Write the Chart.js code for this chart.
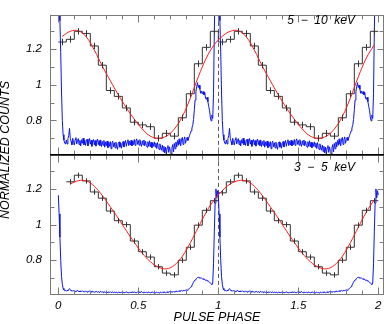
<!DOCTYPE html>
<html>
<head>
<meta charset="utf-8">
<script src="https://cdn.jsdelivr.net/npm/chart.js@4.4.1/dist/chart.umd.min.js"></script>
<style>
  html, body { margin: 0; padding: 0; background: #fff; }
  #wrap { width: 387px; height: 324px; }
</style>
</head>
<body>
<div id="wrap"><canvas id="chart" width="387" height="324"></canvas></div>
<script>
// pulse profiles, two cycles shown (phase 0..2)
const binWidth = 0.05;
const histTop = [1.240, 1.255, 1.300, 1.288, 1.218, 1.110, 0.968, 0.935, 0.870, 0.790,
                 0.775, 0.765, 0.700, 0.728, 0.712, 0.815, 0.950, 1.118, 1.210, 1.300];
const histBot = [1.178, 1.240, 1.277, 1.245, 1.183, 1.148, 1.076, 1.022, 1.000, 0.908,
                 0.848, 0.818, 0.764, 0.728, 0.718, 0.800, 0.873, 0.997, 1.080, 1.134];
// model curve, read at the bin centres
const fitTop = [1.272, 1.300, 1.303, 1.268, 1.195, 1.105, 1.023, 0.944, 0.872, 0.807,
                0.752, 0.712, 0.700, 0.712, 0.752, 0.822, 0.925, 1.045, 1.150, 1.225];
const fitBot = [1.190, 1.228, 1.246, 1.245, 1.215, 1.163, 1.100, 1.035, 0.966, 0.900,
                0.840, 0.792, 0.762, 0.752, 0.772, 0.822, 0.898, 0.985, 1.070, 1.140];
const errTop = 0.018;
const errBot = 0.015;
const skipTop = 0;  // bins left out in the first cycle
const skipBot = 1;

// high resolution profile (blue), one cycle, step 0.005
const blueStep = 0.005;
const blueTop = [
  1.60,1.48,1.36,1.18,0.96,0.80,0.72,0.69,0.672,0.668,
  0.690,0.668,0.698,0.715,0.755,0.700,0.682,0.664,0.700,0.676,
  0.662,0.693,0.704,0.668,0.689,0.698,0.664,0.688,0.657,0.692,
  0.672,0.701,0.664,0.690,0.660,0.686,0.695,0.657,0.682,0.699,
  0.667,0.689,0.655,0.685,0.693,0.663,0.688,0.656,0.683,0.696,
  0.664,0.687,0.659,0.691,0.654,0.682,0.661,0.688,0.650,0.680,
  0.658,0.685,0.647,0.677,0.655,0.681,0.641,0.674,0.683,0.652,
  0.675,0.646,0.678,0.655,0.638,0.672,0.680,0.650,0.674,0.644,
  0.671,0.682,0.651,0.675,0.688,0.655,0.678,0.692,0.659,0.683,
  0.662,0.689,0.657,0.685,0.664,0.693,0.660,0.686,0.697,0.666,
  0.688,0.661,0.692,0.667,0.655,0.686,0.663,0.690,0.658,0.683,
  0.661,0.650,0.681,0.656,0.686,0.652,0.678,0.647,0.675,0.655,
  0.680,0.651,0.673,0.643,0.676,0.649,0.637,0.669,0.644,0.633,
  0.662,0.625,0.655,0.618,0.650,0.612,0.646,0.659,0.621,0.652,
  0.629,0.612,0.648,0.665,0.623,0.671,0.641,0.679,0.652,0.688,
  0.661,0.697,0.669,0.657,0.694,0.705,0.665,0.691,0.708,0.672,
  0.692,0.705,0.688,0.702,0.715,0.728,0.742,0.758,0.772,0.805,
  0.860,0.915,0.962,0.990,1.012,0.985,0.998,0.975,0.952,0.965,
  0.950,0.962,0.944,0.958,0.925,0.918,0.930,0.905,0.878,0.858,
  0.820,0.798,0.830,0.812,0.950,1.300,1.550,1.650,1.680,1.650
];
const blueBot = [
  1.165,1.06,0.93,0.80,0.71,0.665,0.642,0.633,0.629,0.631,
  0.627,0.632,0.629,0.636,0.641,0.634,0.628,0.631,0.626,0.630,
  0.627,0.624,0.629,0.626,0.631,0.625,0.628,0.623,0.627,0.625,
  0.629,0.624,0.626,0.622,0.627,0.625,0.621,0.626,0.624,0.628,
  0.623,0.625,0.621,0.626,0.623,0.620,0.624,0.622,0.625,0.621,
  0.624,0.620,0.623,0.626,0.621,0.623,0.619,0.624,0.622,0.620,
  0.623,0.621,0.618,0.622,0.620,0.624,0.619,0.621,0.623,0.618,
  0.621,0.619,0.622,0.620,0.617,0.621,0.619,0.622,0.618,0.620,
  0.622,0.619,0.621,0.618,0.620,0.623,0.619,0.621,0.617,0.620,
  0.619,0.622,0.618,0.624,0.620,0.622,0.619,0.621,0.618,0.622,
  0.620,0.623,0.619,0.621,0.624,0.620,0.618,0.622,0.620,0.619,
  0.621,0.618,0.620,0.622,0.619,0.617,0.621,0.619,0.622,0.618,
  0.620,0.617,0.619,0.621,0.618,0.620,0.616,0.619,0.621,0.618,
  0.620,0.622,0.619,0.621,0.618,0.620,0.623,0.619,0.621,0.624,
  0.620,0.622,0.625,0.621,0.624,0.622,0.626,0.623,0.627,0.624,
  0.626,0.629,0.625,0.628,0.631,0.627,0.630,0.633,0.629,0.632,
  0.634,0.631,0.636,0.639,0.642,0.646,0.652,0.660,0.668,0.677,
  0.684,0.690,0.694,0.699,0.703,0.706,0.701,0.704,0.698,0.700,
  0.696,0.693,0.697,0.691,0.688,0.690,0.684,0.686,0.680,0.677,
  0.672,0.668,0.664,0.672,0.780,0.960,1.120,1.200,1.150,1.190
];

const bandTop = '5  \u2212  10  keV';
const bandBot = '3  \u2212  5  keV';
const xTitle = 'PULSE PHASE';
const yTitle = 'NORMALIZED COUNTS';
const xTicks = [0, 0.5, 1, 1.5, 2];
const yTicks = [0.8, 1, 1.2];
const nCycles = 2;

const FONT = '"Liberation Sans", Arial, sans-serif';

function histPoints(vals, skip) {
  let pts = [];
  for (let c = 0; c < nCycles; c++) {
    vals.forEach((v, k) => {
      if (c === 0 && k < skip) return;
      pts.push({x: c + k * binWidth, y: v});
    });
  }
  pts.push({x: nCycles, y: vals[vals.length - 1]});
  return pts;
}

function fitPoints(vals, skip) {
  let pts = [];
  for (let c = 0; c < nCycles; c++) {
    vals.forEach((v, k) => {
      if (c === 0 && k < skip) return;
      pts.push({x: c + (k + 0.5) * binWidth, y: v});
    });
  }
  return pts;
}

function bluePoints(vals) {
  let pts = [];
  for (let c = 0; c < nCycles; c++) {
    vals.forEach((v, i) => pts.push({x: c + i * blueStep, y: v}));
  }
  pts.push({x: nCycles, y: vals[0]});
  return pts;
}

function drawErr(chart, yId, vals, err, skip) {
  const ctx = chart.ctx, xs = chart.scales.x, ys = chart.scales[yId];
  for (let c = 0; c < nCycles; c++) {
    vals.forEach((v, k) => {
      if (c === 0 && k < skip) return;
      const px = Math.round(xs.getPixelForValue(c + (k + 0.5) * binWidth)) + 0.5;
      ctx.beginPath();
      ctx.moveTo(px, ys.getPixelForValue(v + err));
      ctx.lineTo(px, ys.getPixelForValue(v - err));
      ctx.stroke();
    });
  }
}

const decor = {
  id: 'decor',
  beforeDatasetsDraw(chart) {
    const {ctx, chartArea: a, scales} = chart;
    ctx.save();
    ctx.strokeStyle = '#5a5a5a';
    ctx.lineWidth = 1;
    ctx.setLineDash([4, 3]);
    const dx = Math.round(scales.x.getPixelForValue(1)) + 0.5;
    ctx.beginPath();
    ctx.moveTo(dx, a.top);
    ctx.lineTo(dx, a.bottom);
    ctx.stroke();
    ctx.restore();
  },
  afterDatasetsDraw(chart) {
    const ctx = chart.ctx;
    ctx.save();
    ctx.strokeStyle = '#333';
    ctx.lineWidth = 1;
    drawErr(chart, 'yTop', histTop, errTop, skipTop);
    drawErr(chart, 'yBot', histBot, errBot, skipBot);
    ctx.restore();
  },
  afterDraw(chart) {
    const {ctx, chartArea: a, scales} = chart;
    const xs = scales.x;
    ctx.save();
    ctx.lineWidth = 1;
    ctx.strokeStyle = '#7a7a7a';
    const l = Math.round(a.left) + 0.5, r = Math.round(a.right) - 0.5;
    ['yTop', 'yBot'].forEach(id => {
      const ys = scales[id];
      const t = Math.round(ys.top) + 0.5, b = Math.round(ys.bottom) - 0.5;
      ctx.strokeRect(l, t, r - l, b - t);
      ctx.beginPath();
      for (let k = 0; k <= 20; k++) {
        const px = Math.round(xs.getPixelForValue(k / 10)) + 0.5;
        const len = k % 5 === 0 ? 7 : 4;
        ctx.moveTo(px, t); ctx.lineTo(px, t + len);
        ctx.moveTo(px, b); ctx.lineTo(px, b - len);
      }
      for (let k = 7; k <= 13; k++) {
        const py = Math.round(ys.getPixelForValue(k / 10)) + 0.5;
        const len = k % 2 === 0 ? 6 : 4;
        ctx.moveTo(l, py); ctx.lineTo(l + len, py);
        ctx.moveTo(r, py); ctx.lineTo(r - len, py);
      }
      ctx.stroke();
    });
    // heavy line between the panels
    ctx.strokeStyle = '#000';
    ctx.lineWidth = 1.5;
    ctx.beginPath();
    ctx.moveTo(a.left, scales.yTop.bottom);
    ctx.lineTo(a.right, scales.yTop.bottom);
    ctx.stroke();

    ctx.fillStyle = '#000';
    ctx.font = 'italic 12px ' + FONT;
    ctx.textAlign = 'right';
    ctx.textBaseline = 'alphabetic';
    ctx.fillText(bandTop, 355, 23.5);
    ctx.fillText(bandBot, 355, 170.5);

    ctx.translate(6, 150);
    ctx.rotate(-Math.PI / 2);
    ctx.textAlign = 'center';
    ctx.textBaseline = 'middle';
    ctx.font = 'italic 12.5px ' + FONT;
    ctx.fillText(yTitle, 0, 0);
    ctx.restore();
  }
};

const yAxis = {
  type: 'linear',
  position: 'left',
  stack: 'panels',
  min: 0.608,
  max: 1.392,
  grid: {display: false, drawTicks: false},
  border: {display: false},
  afterBuildTicks: s => { s.ticks = yTicks.map(v => ({value: v})); },
  afterFit: s => { s.width = 50; },
  ticks: {
    padding: 8,
    color: '#000',
    font: {family: FONT, style: 'italic', size: 11.5},
    callback: v => String(v)
  }
};

new Chart(document.getElementById('chart'), {
  type: 'line',
  data: {
    datasets: [
      {label: 'fit 5-10', data: fitPoints(fitTop, skipTop), yAxisID: 'yTop',
       borderColor: '#ff1a1a', borderWidth: 1, pointRadius: 0, tension: 0.4},
      {label: 'fit 3-5', data: fitPoints(fitBot, skipBot), yAxisID: 'yBot',
       borderColor: '#ff1a1a', borderWidth: 1, pointRadius: 0, tension: 0.4},
      {label: 'hires 5-10', data: bluePoints(blueTop), yAxisID: 'yTop',
       borderColor: '#0a14f0', borderWidth: 1, pointRadius: 0, tension: 0},
      {label: 'hires 3-5', data: bluePoints(blueBot), yAxisID: 'yBot',
       borderColor: '#0a14f0', borderWidth: 1, pointRadius: 0, tension: 0},
      {label: 'hist 5-10', data: histPoints(histTop, skipTop), yAxisID: 'yTop',
       borderColor: '#333', borderWidth: 1, pointRadius: 0, stepped: true},
      {label: 'hist 3-5', data: histPoints(histBot, skipBot), yAxisID: 'yBot',
       borderColor: '#333', borderWidth: 1, pointRadius: 0, stepped: true}
    ]
  },
  options: {
    responsive: false,
    animation: false,
    events: [],
    layout: {padding: {top: 0, right: 3, bottom: 0, left: 0}},
    plugins: {legend: {display: false}, tooltip: {enabled: false}},
    scales: {
      x: {
        type: 'linear',
        min: -0.052,
        max: 2.0355,
        grid: {display: false, drawTicks: false},
        border: {display: false},
        afterBuildTicks: s => { s.ticks = xTicks.map(v => ({value: v})); },
        afterFit: s => { s.height = 29.5; },
        ticks: {
          padding: 4,
          color: '#000',
          maxRotation: 0,
          font: {family: FONT, style: 'italic', size: 11.5},
          callback: v => String(v)
        },
        title: {
          display: true,
          text: xTitle,
          color: '#000',
          padding: {top: 0, bottom: 0},
          font: {family: FONT, style: 'italic', size: 12.5, lineHeight: 1}
        }
      },
      yBot: Object.assign({}, yAxis),
      yTop: Object.assign({}, yAxis)
    }
  },
  plugins: [decor]
});
</script>
</body>
</html>
